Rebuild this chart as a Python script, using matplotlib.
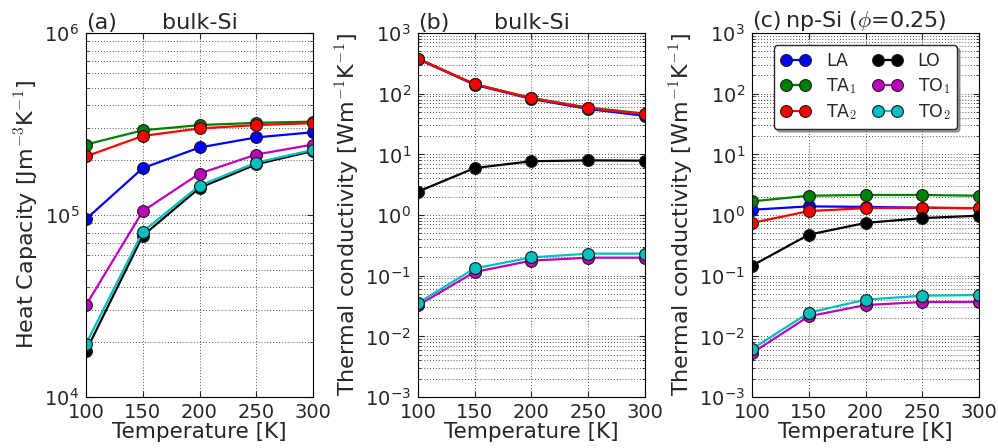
import numpy as np
import matplotlib
matplotlib.use('Agg')
import matplotlib.pyplot as plt
from matplotlib.ticker import LogLocator, FuncFormatter, NullFormatter

# temperatures
temp = [100, 150, 200, 250, 300]

modos = ['LA', 'TA$_1$', 'TA$_2$', 'LO', 'TO$_1$', 'TO$_2$']
colores = ['b', 'g', 'r', 'k', 'm', 'c']

# (a) capacidad calorifica bulk-Si [J m^-3 K^-1]
cv_LA = [9.5e4, 1.81e5, 2.35e5, 2.67e5, 2.85e5]
cv_TA1 = [2.44e5, 2.92e5, 3.12e5, 3.21e5, 3.26e5]
cv_TA2 = [2.10e5, 2.72e5, 2.99e5, 3.12e5, 3.20e5]
cv_LO = [1.79e4, 7.7e4, 1.41e5, 1.90e5, 2.25e5]
cv_TO1 = [3.2e4, 1.05e5, 1.69e5, 2.15e5, 2.44e5]
cv_TO2 = [1.96e4, 8.1e4, 1.45e5, 1.94e5, 2.28e5]

# (b) conductividad bulk-Si [W m^-1 K^-1]
kb_LA = [372, 140, 82, 56, 43]
kb_TA1 = [380, 144, 85, 59, 47]
kb_TA2 = [378, 143, 84, 58, 46]
kb_LO = [2.43, 5.95, 7.7, 7.96, 7.87]
kb_TO1 = [0.0324, 0.115, 0.177, 0.198, 0.198]
kb_TO2 = [0.0354, 0.132, 0.200, 0.231, 0.231]

# (c) conductividad np-Si (phi=0.25)
kn_LA = [1.22, 1.39, 1.36, 1.32, 1.29]
kn_TA1 = [1.68, 2.08, 2.14, 2.14, 2.08]
kn_TA2 = [0.74, 1.16, 1.30, 1.32, 1.30]
kn_LO = [0.146, 0.474, 0.74, 0.89, 0.975]
kn_TO1 = [0.0053, 0.0214, 0.0328, 0.0368, 0.0368]
kn_TO2 = [0.00618, 0.0245, 0.0402, 0.0468, 0.048]

plt.rcParams['font.family'] = 'DejaVu Sans'
plt.rcParams['mathtext.fontset'] = 'cm'
plt.rcParams['text.color'] = '0.15'
plt.rcParams['axes.labelcolor'] = '0.15'
plt.rcParams['xtick.color'] = '0.15'
plt.rcParams['ytick.color'] = '0.15'
plt.rcParams['xtick.direction'] = 'in'
plt.rcParams['ytick.direction'] = 'in'
plt.rcParams['xtick.top'] = True
plt.rcParams['ytick.right'] = True
plt.rcParams['xtick.major.size'] = 4
plt.rcParams['ytick.major.size'] = 4
plt.rcParams['ytick.minor.size'] = 2
plt.rcParams['xtick.major.pad'] = 4
plt.rcParams['ytick.major.pad'] = 5


def exp_fmt(v, pos):
    e = int(round(np.log10(v)))
    return r'$\mathdefault{10^{%d}}$' % e


fig = plt.figure(figsize=(9.98, 4.48), dpi=100)
lefts = [0.0862, 0.4188, 0.7535]
paneles = [
    ([cv_LA, cv_TA1, cv_TA2, cv_LO, cv_TO1, cv_TO2], (1e4, 1e6),
     'Heat Capacity [Jm$^{-3}$K$^{-1}$]', '(a)', 'bulk-Si'),
    ([kb_LA, kb_TA1, kb_TA2, kb_LO, kb_TO1, kb_TO2], (1e-3, 1e3),
     'Thermal conductivity [Wm$^{-1}$K$^{-1}$]', '(b)', 'bulk-Si'),
    ([kn_LA, kn_TA1, kn_TA2, kn_LO, kn_TO1, kn_TO2], (1e-3, 1e3),
     'Thermal conductivity [Wm$^{-1}$K$^{-1}$]', '(c)', r'np-Si ($\phi$=0.25)'),
]

grid_ls = (0, (1, 2.5))

for i, (series, ylim, ylab, letra, titulo) in enumerate(paneles):
    ax = fig.add_axes([lefts[i], 0.1138, 0.2275, 0.8125])
    for s, c, lab in zip(series, colores, modos):
        ax.plot(temp, s, '-o', color=c, lw=1.6, ms=8.5, mec='0.1', mew=0.8,
                label=lab)
    ax.set_yscale('log')
    ax.set_xlim(100, 300)
    ax.set_ylim(*ylim)
    ax.set_xticks([100, 150, 200, 250, 300])
    ax.yaxis.set_major_locator(LogLocator(base=10, numticks=10))
    ax.yaxis.set_minor_locator(LogLocator(base=10, subs=np.arange(2, 10), numticks=20))
    ax.yaxis.set_major_formatter(FuncFormatter(exp_fmt))
    ax.yaxis.set_minor_formatter(NullFormatter())
    ax.tick_params(labelsize=14)
    ax.grid(True, which='major', color='0.1', linestyle=grid_ls, lw=0.6)
    ax.grid(True, which='minor', axis='y', color='0.1', linestyle=grid_ls, lw=0.6)
    ax.set_axisbelow(True)
    ax.set_xlabel('Temperature [K]', fontsize=15.5, labelpad=0)
    ax.set_ylabel(ylab, fontsize=16, labelpad=2)
    ax.set_title(letra, loc='left', fontsize=16, pad=3)
    ax.set_title(titulo, fontsize=16, pad=3)
    for sp in ax.spines.values():
        sp.set_color('k')
    if i == 2:
        ax.legend(loc='upper center', ncol=2, numpoints=2, fontsize=12.5,
                  shadow=True, fancybox=True, handlelength=1.7,
                  columnspacing=0.9, handletextpad=0.9, borderpad=0.4,
                  labelspacing=0.35, framealpha=1, edgecolor='0.15',
                  bbox_to_anchor=(0.5, 1.0), borderaxespad=0.7)

fig.savefig('out.png', dpi=100)
